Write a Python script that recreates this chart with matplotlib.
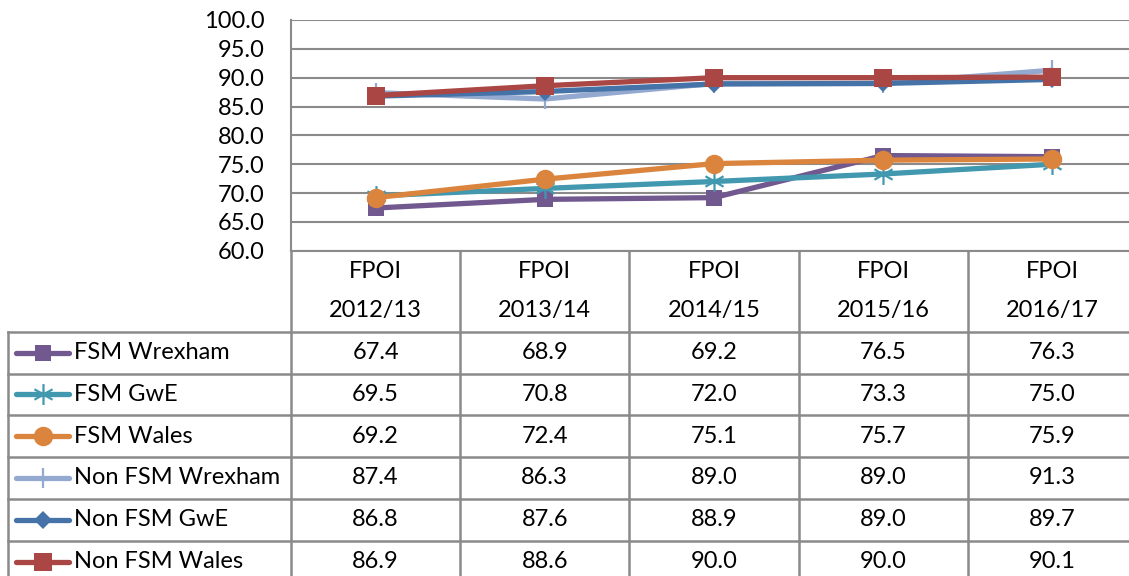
import matplotlib
matplotlib.use("Agg")
import matplotlib.pyplot as plt
from matplotlib.lines import Line2D
from matplotlib.path import Path
import numpy as np

plt.rcParams["font.family"] = ["Lato", "DejaVu Sans"]

# ---------------------------------------------------------------------------
# data
# ---------------------------------------------------------------------------
years = ["2012/13", "2013/14", "2014/15", "2015/16", "2016/17"]
series_names = ["FSM Wrexham", "FSM GwE", "FSM Wales",
                "Non FSM Wrexham", "Non FSM GwE", "Non FSM Wales"]
fsm_wrexham = [67.4, 68.9, 69.2, 76.5, 76.3]
fsm_gwe = [69.5, 70.8, 72.0, 73.3, 75.0]
fsm_wales = [69.2, 72.4, 75.1, 75.7, 75.9]
non_fsm_wrexham = [87.4, 86.3, 89.0, 89.0, 91.3]
non_fsm_gwe = [86.8, 87.6, 88.9, 89.0, 89.7]
non_fsm_wales = [86.9, 88.6, 90.0, 90.0, 90.1]
values = [fsm_wrexham, fsm_gwe, fsm_wales, non_fsm_wrexham, non_fsm_gwe, non_fsm_wales]
yticks = np.arange(60, 100.1, 5)

# star marker, excel style (vertical + two diagonals)
star = Path([(0, -1), (0, 1), (-0.87, -0.5), (0.87, 0.5), (-0.87, 0.5), (0.87, -0.5)],
            [Path.MOVETO, Path.LINETO] * 3)

styles = [
    dict(color="#71588F", marker="s", ms=11, mew=0),
    dict(color="#4198AF", marker=star, ms=15, mew=1.6),
    dict(color="#DB843D", marker="o", ms=14, mew=0),
    dict(color="#93A9CF", marker="|", ms=14, mew=1.6),
    dict(color="#4572A7", marker="D", ms=9, mew=0),
    dict(color="#AA4643", marker="s", ms=13, mew=0),
]

W, H = 1129, 576
FS = 17
fig = plt.figure(figsize=(W / 100, H / 100), dpi=100)

# pixel layout of the Excel-style chart + data table
x_left = 8.3
x_plot = 291
col_w = 169.2
y_top = 20
y_axis = 250.7
y_head = 331.7
row_h = 41.8
grid_c = "#8A8A8A"

ax = fig.add_axes([x_plot / W, 1 - y_axis / H, (W - x_plot) / W, (y_axis - y_top) / H])
for vals, st, name in zip(values, styles, series_names):
    ax.plot(range(len(years)), vals, color=st["color"], lw=3.8, marker=st["marker"],
            ms=st["ms"], mew=st["mew"], mec=st["color"], mfc=st["color"],
            clip_on=False, solid_capstyle="round", label=name)
ax.set_xlim(-0.5, -0.5 + (W - x_plot) / col_w)
ax.set_ylim(60, 100)
ax.set_yticks(yticks)
ax.set_yticklabels([f"{v:.1f}" for v in yticks], fontsize=FS)
ax.set_xticks([])
ax.tick_params(axis="y", length=0, pad=19)
ax.grid(axis="y", color=grid_c, lw=1.5)
ax.set_axisbelow(True)
for s in ["top", "right"]:
    ax.spines[s].set_visible(False)
for s in ["left", "bottom"]:
    ax.spines[s].set_color(grid_c)
    ax.spines[s].set_linewidth(1.5)

# table overlay in pixel coordinates
tb = fig.add_axes([0, 0, 1, 1], facecolor="none")
tb.set_xlim(0, W)
tb.set_ylim(H, 0)
tb.axis("off")
lw_t = 1.8
n_rows = len(series_names)
y_bottom = y_head + row_h * n_rows
# vertical lines
tb.plot([x_left, x_left], [y_head, y_bottom], color=grid_c, lw=lw_t)
tb.plot([x_plot, x_plot], [y_axis, y_bottom], color=grid_c, lw=lw_t)
for j in range(1, len(years) + 1):
    xv = x_plot + col_w * j
    tb.plot([xv, xv], [y_axis, y_bottom], color=grid_c, lw=lw_t)
# horizontal lines
for i in range(n_rows + 1):
    yh = y_head + row_h * i
    tb.plot([x_left, W + 10], [yh, yh], color=grid_c, lw=lw_t)

# header
for j, yr in enumerate(years):
    xc = x_plot + col_w * (j + 0.5)
    tb.text(xc, 271, "FPOI", ha="center", va="center", fontsize=FS)
    tb.text(xc, 311, yr, ha="center", va="center", fontsize=FS)

# rows
for i, (name, vals, st) in enumerate(zip(series_names, values, styles)):
    yc = y_head + row_h * (i + 0.5)
    tb.add_line(Line2D([16, 69], [yc, yc], color=st["color"], lw=3.8,
                       solid_capstyle="round"))
    tb.add_line(Line2D([42.5], [yc], marker=st["marker"], ms=st["ms"], mew=st["mew"],
                       mec=st["color"], mfc=st["color"], color=st["color"], lw=0))
    tb.text(74, yc, name, ha="left", va="center", fontsize=FS)
    for j, v in enumerate(vals):
        xc = x_plot + col_w * (j + 0.5)
        tb.text(xc, yc, f"{v:.1f}", ha="center", va="center", fontsize=FS)

fig.savefig("out.png", dpi=100)
